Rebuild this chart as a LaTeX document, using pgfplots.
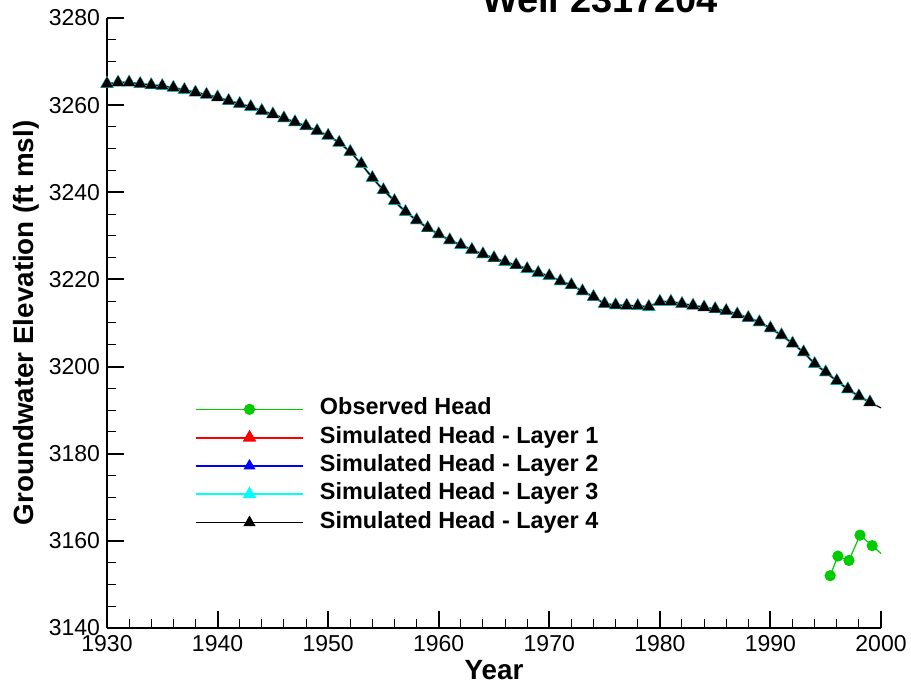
\documentclass[border=0pt]{standalone}
\usepackage{fontspec}
\setmainfont{Liberation Sans}
\usepackage{pgfplots}
\usepackage{pgfplotstable}
\pgfplotsset{compat=1.18}
\definecolor{obsgreen}{RGB}{0,204,0}
\definecolor{lay1}{RGB}{255,0,0}
\definecolor{lay2}{RGB}{0,0,255}
\definecolor{lay3}{RGB}{0,255,255}

% simulated head, all layers (one point per year)
\pgfplotstableread{
year head
1930 3264.9
1931 3265.2
1932 3265.2
1933 3264.9
1934 3264.6
1935 3264.4
1936 3264.0
1937 3263.5
1938 3262.9
1939 3262.4
1940 3261.8
1941 3261.0
1942 3260.3
1943 3259.6
1944 3258.7
1945 3257.9
1946 3257.0
1947 3256.1
1948 3255.2
1949 3254.1
1950 3253.0
1951 3251.4
1952 3249.3
1953 3246.5
1954 3243.3
1955 3240.5
1956 3238.0
1957 3235.5
1958 3233.6
1959 3231.8
1960 3230.4
1961 3229.0
1962 3227.9
1963 3226.8
1964 3225.8
1965 3224.9
1966 3224.0
1967 3223.3
1968 3222.4
1969 3221.5
1970 3220.8
1971 3219.6
1972 3218.7
1973 3217.3
1974 3216.0
1975 3214.4
1976 3214.1
1977 3214.0
1978 3213.9
1979 3213.7
1980 3214.9
1981 3214.9
1982 3214.4
1983 3214.0
1984 3213.6
1985 3213.2
1986 3212.8
1987 3212.0
1988 3211.2
1989 3210.2
1990 3208.8
1991 3207.2
1992 3205.3
1993 3203.3
1994 3200.6
1995 3198.7
1996 3196.7
1997 3194.8
1998 3193.2
1999 3191.8
}\simhead

% observed head
\pgfplotstableread{
year head
1995.4 3152.0
1996.1 3156.5
1997.1 3155.5
1998.1 3161.3
1999.2 3158.9
}\obshead

\begin{document}
\begin{tikzpicture}
\begin{axis}[
  at={(0pt,0pt)}, anchor=south west,
  scale only axis, width=387pt, height=305pt,
  xmin=1930, xmax=2000, ymin=3140, ymax=3280,
  axis x line=bottom, axis y line=left,
  axis line style={-, line width=1.2pt},
  xtick={1930,1940,...,2000}, ytick={3140,3160,...,3280},
  minor x tick num=4, minor y tick num=3,
  tick align=inside,
  major tick length=8.5pt, minor tick length=4.5pt,
  every major tick/.append style={line width=1pt, black},
  every minor tick/.append style={line width=0.5pt, black},
  ticklabel style={font=\fontsize{11.5}{13}\selectfont},
  /pgf/number format/assume math mode=true,
  /pgf/number format/set thousands separator={},
  xlabel={Year},
  ylabel={Groundwater Elevation (ft msl)},
  xlabel style={at={(axis description cs:0.5,-0.084)}, anchor=base,
    font=\fontsize{13.9}{16}\selectfont\bfseries},
  ylabel style={at={(axis description cs:-0.1047,0.5)}, anchor=center,
    font=\fontsize{13.9}{16}\selectfont\bfseries},
  clip=false,
  legend cell align=left,
  legend style={at={(axis description cs:0.1137,0.2657)}, anchor=west,
    draw=none, fill=none, inner sep=0pt, outer sep=0pt,
    column sep=8pt, row sep=0pt,
    font=\fontsize{11.7}{14}\selectfont\bfseries,
    nodes={inner sep=0pt, text height=9.9pt, text depth=4.25pt}},
  legend image code/.code={
    \draw[mark repeat=2, mark phase=2, #1]
      plot coordinates {(0pt,0pt) (26.75pt,0pt) (53.5pt,0pt)};},
]
\addplot[obsgreen, line width=0.6pt, mark=*, mark size=2.5pt,
  mark options={fill=obsgreen, draw=obsgreen}] table[x=year, y=head] {\obshead};
\addlegendentry{Observed Head}
\addplot[lay1, line width=1pt, mark=triangle*, mark size=2.9pt,
  mark options={fill=lay1, draw=lay1}] table[x=year, y=head] {\simhead};
\addlegendentry{Simulated Head - Layer 1}
\addplot[lay2, line width=0.6pt, mark=triangle*, mark size=2.9pt,
  mark options={fill=lay2, draw=lay2}] table[x=year, y=head] {\simhead};
\addlegendentry{Simulated Head - Layer 2}
\addplot[lay3, line width=1pt, mark=triangle*, mark size=2.9pt,
  mark options={fill=lay3, draw=lay3}] table[x=year, y=head] {\simhead};
\addlegendentry{Simulated Head - Layer 3}
\addplot[black, line width=0.6pt, mark=triangle*, mark size=2.9pt,
  mark options={fill=black, draw=black}] table[x=year, y=head] {\simhead};
\addlegendentry{Simulated Head - Layer 4}

% last segments run on to 2000 without a mark
\addplot[forget plot, obsgreen, line width=0.6pt] coordinates {(1999.2,3158.9) (2000,3157.1)};
\addplot[forget plot, black, line width=0.6pt] coordinates {(1999,3191.8) (2000,3190.5)};
\end{axis}

\node[anchor=base, font=\fontsize{19}{22}\selectfont\bfseries] at (246.5pt,307.5pt) {Well 2317204};

\pgfresetboundingbox
\path[use as bounding box] (-53.5pt,-27.5pt) rectangle (402pt,314pt);
\end{tikzpicture}
\end{document}
